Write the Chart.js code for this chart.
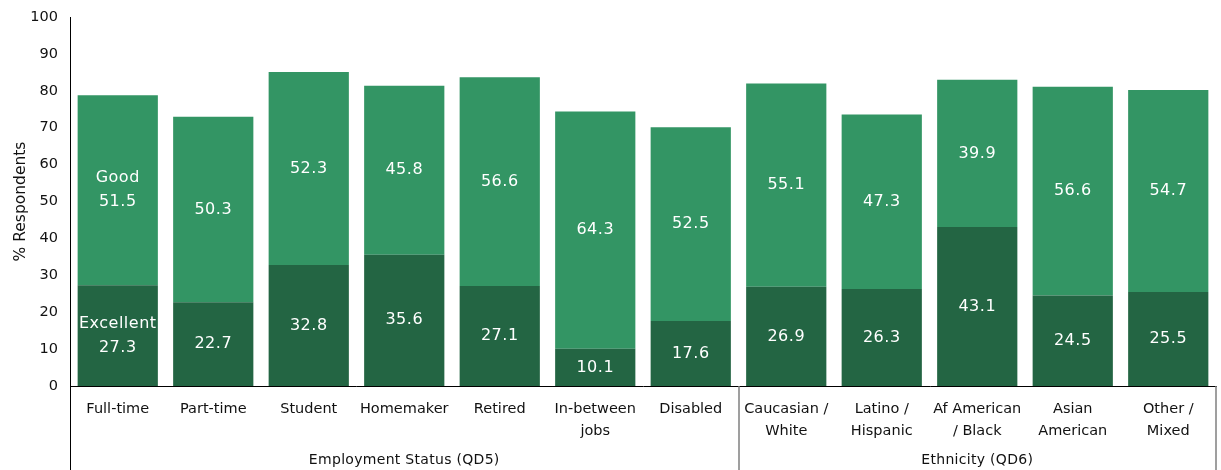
<!DOCTYPE html>
<html>
<head>
<meta charset="utf-8">
<script src="https://cdn.jsdelivr.net/npm/chart.js@4.4.1/dist/chart.umd.min.js"></script>
<style>
    html, body { margin: 0; padding: 0; background: #fff; }
    #wrap { width: 1221px; height: 470px; }
</style>
</head>
<body>
<div id="wrap"><canvas id="chart" width="1221" height="470"></canvas></div>
<script>
// respondents rating by employment status and ethnicity - stacked bars

const categories = [
    ['Full-time'], ['Part-time'], ['Student'], ['Homemaker'], ['Retired'],
    ['In-between', 'jobs'], ['Disabled'],
    ['Caucasian /', 'White'], ['Latino /', 'Hispanic'], ['Af American', '/ Black'],
    ['Asian', 'American'], ['Other /', 'Mixed']
];
const excellent = [27.3, 22.7, 32.8, 35.6, 27.1, 10.1, 17.6, 26.9, 26.3, 43.1, 24.5, 25.5];
const good = [51.5, 50.3, 52.3, 45.8, 56.6, 64.3, 52.5, 55.1, 47.3, 39.9, 56.6, 54.7];
const groupNames = ['Employment Status (QD5)', 'Ethnicity (QD6)'];
const groupSizes = [7, 5];
const yTicks = [0, 10, 20, 30, 40, 50, 60, 70, 80, 90, 100];

const COLOR_DARK = '#236543';
const COLOR_LIGHT = '#339564';
const FONT = '"DejaVu Sans", sans-serif';


// white value labels in the middle of each segment, series name on the first bar
const barLabels = {
    id: 'barLabels',
    afterDatasetsDraw(chart) {
        const ctx = chart.ctx;
        ctx.save();
        ctx.fillStyle = '#fff';
        ctx.font = '16px ' + FONT;
        ctx.letterSpacing = '0.5px';
        ctx.textAlign = 'center';
        ctx.textBaseline = 'middle';
        chart.data.datasets.forEach(function(ds, d) {
            const meta = chart.getDatasetMeta(d);
            meta.data.forEach(function(bar, i) {
                const mid = (bar.y + bar.base) / 2;
                const txt = ds.data[i].toFixed(1);
                if (i === 0) {
                    ctx.fillText(ds.label, bar.x, mid - 12);
                    ctx.fillText(txt, bar.x, mid + 12);
                } else {
                    ctx.fillText(txt, bar.x, mid);
                }
            });
        });
        ctx.restore();
    }
};

// group names under the category labels plus the divider lines
const groupAxis = {
    id: 'groupAxis',
    afterDraw(chart) {
        const ctx = chart.ctx;
        const area = chart.chartArea;
        const x = chart.scales.x;
        const bottom = chart.height;
        const edges = [area.left];
        let idx = 0;
        groupSizes.forEach(function(n) {
            idx += n;
            if (idx < categories.length) {
                edges.push((x.getPixelForValue(idx - 1) + x.getPixelForValue(idx)) / 2);
            } else {
                edges.push(area.right);
            }
        });

        ctx.save();
        ctx.strokeStyle = '#000';
        ctx.lineWidth = 1;
        ctx.beginPath();
        ctx.moveTo(Math.round(area.left) + 0.5, area.bottom);
        ctx.lineTo(Math.round(area.left) + 0.5, bottom);
        ctx.stroke();
        ctx.strokeStyle = '#7f7f7f';
        ctx.lineWidth = 1.5;
        for (let i = 1; i < edges.length; i++) {
            ctx.beginPath();
            ctx.moveTo(Math.round(edges[i]), area.bottom);
            ctx.lineTo(Math.round(edges[i]), bottom);
            ctx.stroke();
        }

        ctx.fillStyle = '#111';
        ctx.font = '14px ' + FONT;
        ctx.letterSpacing = '0.3px';
        ctx.textAlign = 'center';
        ctx.textBaseline = 'middle';
        for (let g = 0; g < groupNames.length; g++) {
            ctx.fillText(groupNames[g], (edges[g] + edges[g + 1]) / 2, 460);
        }
        ctx.restore();
    }
};


new Chart(document.getElementById('chart'), {
    type: 'bar',
    data: {
        labels: categories,
        datasets: [
            { label: 'Excellent', data: excellent, backgroundColor: COLOR_DARK, borderWidth: 0 },
            { label: 'Good', data: good, backgroundColor: COLOR_LIGHT, borderWidth: 0 }
        ]
    },
    options: {
        responsive: false,
        animation: false,
        layout: { padding: { top: 17, right: 5, left: 0, bottom: 0 } },
        datasets: { bar: { categoryPercentage: 1, barPercentage: 0.84 } },
        plugins: {
            legend: { display: false },
            tooltip: { enabled: false }
        },
        scales: {
            x: {
                stacked: true,
                grid: { display: false },
                border: { display: true, color: '#000', width: 1 },
                ticks: {
                    color: '#111',
                    padding: 4,
                    maxRotation: 0,
                    autoSkip: false,
                    font: { family: FONT, size: 14.5, lineHeight: 1.52 }
                },
                afterFit: function(s) { s.height = 84; }
            },
            y: {
                stacked: true,
                min: 0,
                max: 100,
                afterBuildTicks: function(s) {
                    s.ticks = yTicks.map(function(v) { return { value: v }; });
                },
                grid: { display: false, drawTicks: false },
                border: { display: true, color: '#000', width: 1 },
                ticks: {
                    color: '#111',
                    padding: 12,
                    font: { family: FONT, size: 14.5, lineHeight: 0.2 }
                },
                title: {
                    display: true,
                    text: '% Respondents',
                    color: '#111',
                    padding: { top: 12, bottom: 0 },
                    font: { family: FONT, size: 15.5 }
                },
                afterFit: function(s) { s.width = 70; }
            }
        }
    },
    plugins: [barLabels, groupAxis]
});
</script>
</body>
</html>
